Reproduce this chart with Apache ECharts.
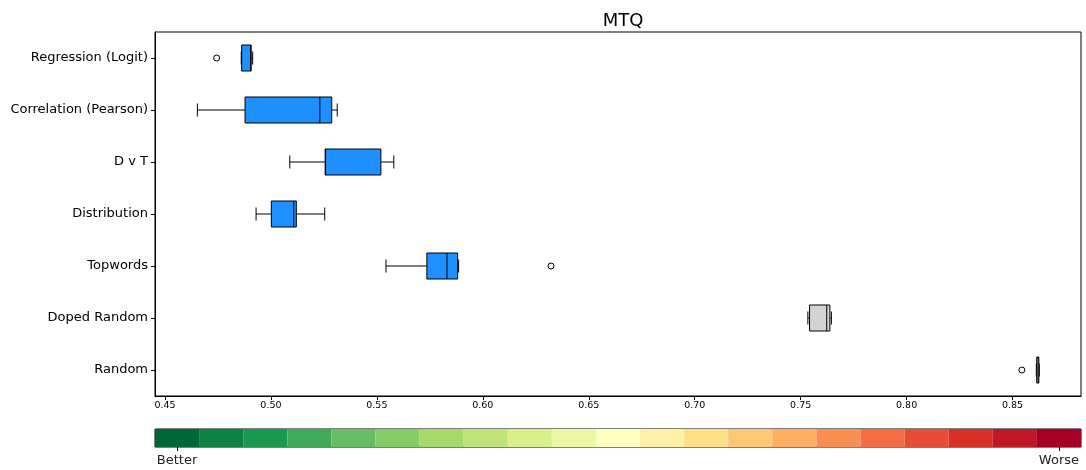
<!DOCTYPE html>
<html>
<head>
<meta charset="utf-8">
<script src="https://cdn.jsdelivr.net/npm/echarts@6/dist/echarts.min.js"></script>
<style>
html,body{margin:0;padding:0;background:#fff;}
#chart{width:1086px;height:470px;}
</style>
</head>
<body>
<div id="chart"></div>
<script>
// ---- data ----
var categories = ['Regression (Logit)', 'Correlation (Pearson)', 'D v T', 'Distribution', 'Topwords', 'Doped Random', 'Random'];
var whiskerLow  = [0.4860, 0.4653, 0.5089, 0.4930, 0.5543, 0.7534, 0.8612];
var q1          = [0.4862, 0.4878, 0.5256, 0.5002, 0.5736, 0.7542, 0.8614];
var median      = [0.4904, 0.5231, 0.5258, 0.5108, 0.5831, 0.7623, 0.8620];
var q3          = [0.4907, 0.5287, 0.5519, 0.5120, 0.5881, 0.7638, 0.8624];
var whiskerHigh = [0.4914, 0.5313, 0.5580, 0.5254, 0.5886, 0.7645, 0.8626];
var outlierCats   = ['Regression (Logit)', 'Topwords', 'Random'];
var outlierValues = [0.4744, 0.6322, 0.8544];
var boxColors = ['#1e90ff', '#1e90ff', '#1e90ff', '#1e90ff', '#1e90ff', '#d3d3d3', '#d3d3d3'];
var xTicks = [0.45, 0.50, 0.55, 0.60, 0.65, 0.70, 0.75, 0.80, 0.85];
var colorbarColors = ['#006837', '#0d8043', '#1a9850', '#40aa59', '#66bd63', '#86cb66', '#a6d96a', '#c0e47a',
  '#d9ef8b', '#ecf7a5', '#ffffbf', '#fef0a5', '#fee08b', '#fdc776', '#fdae61', '#f88e52', '#f46d43', '#e54e35',
  '#d73027', '#be1826', '#a50026'];
var colorbarLabels = ['Better', 'Worse'];
var title = 'MTQ';

// ---- build ----
var boxData = categories.map(function (c, i) {
  return [i, whiskerLow[i], q1[i], median[i], q3[i], whiskerHigh[i]];
});
var outlierData = outlierCats.map(function (c, i) { return [outlierValues[i], c]; });
var FONT = 'DejaVu Sans';

function renderBox(params, api) {
  var ci = api.value(0);
  var band = api.size([0, 1])[1];
  var yc = api.coord([0, ci])[1];
  var hb = band * 0.25, hc = band * 0.125;
  var xlo = api.coord([api.value(1), ci])[0];
  var xq1 = api.coord([api.value(2), ci])[0];
  var xmd = api.coord([api.value(3), ci])[0];
  var xq3 = api.coord([api.value(4), ci])[0];
  var xhi = api.coord([api.value(5), ci])[0];
  var ls = {stroke: '#000', lineWidth: 1};
  return {
    type: 'group',
    children: [
      {type: 'line', shape: {x1: xlo, y1: yc, x2: xq1, y2: yc}, style: ls},
      {type: 'line', shape: {x1: xq3, y1: yc, x2: xhi, y2: yc}, style: ls},
      {type: 'line', shape: {x1: xlo, y1: yc - hc, x2: xlo, y2: yc + hc}, style: ls},
      {type: 'line', shape: {x1: xhi, y1: yc - hc, x2: xhi, y2: yc + hc}, style: ls},
      {type: 'rect', shape: {x: xq1, y: yc - hb, width: xq3 - xq1, height: 2 * hb},
        style: {fill: boxColors[ci], stroke: '#000', lineWidth: 1}},
      {type: 'line', shape: {x1: xmd, y1: yc - hb, x2: xmd, y2: yc + hb}, style: ls}
    ]
  };
}

var chart = echarts.init(document.getElementById('chart'), null, {renderer: 'canvas'});
chart.setOption({
  animation: false,
  backgroundColor: '#fff',
  textStyle: {fontFamily: FONT},
  title: {
    text: title, left: 618, top: 7, textAlign: 'center',
    textStyle: {fontFamily: FONT, fontSize: 18, fontWeight: 'normal', color: '#000'}
  },
  grid: [
    {left: 155, top: 32, width: 926, height: 364, show: true, borderColor: '#000', borderWidth: 1, backgroundColor: 'transparent'},
    {left: 155, top: 429, width: 926, height: 18, show: true, borderColor: '#000', borderWidth: 1, backgroundColor: 'transparent'}
  ],
  xAxis: [
    {
      type: 'value', gridIndex: 0, min: 0.4453, max: 0.8823,
      splitLine: {show: false},
      axisLine: {show: true, lineStyle: {color: '#000', width: 1}},
      axisTick: {show: true, customValues: xTicks, length: 4, lineStyle: {color: '#000'}},
      axisLabel: {customValues: xTicks, fontSize: 9.5, color: '#000', margin: 5, fontFamily: FONT,
        formatter: function (v) { return v.toFixed(2); }}
    },
    {
      type: 'category', gridIndex: 1, data: colorbarColors.map(function (c, i) { return i; }),
      boundaryGap: true,
      axisLine: {show: false},
      axisTick: {show: true, alignWithLabel: true, length: 4, lineStyle: {color: '#000'},
        interval: function (i) { return i === 0 || i === colorbarColors.length - 1; }},
      axisLabel: {interval: 0, fontSize: 13, color: '#222', margin: 7, fontFamily: FONT,
        formatter: function (v, i) {
          if (i === 0) return colorbarLabels[0];
          if (i === colorbarColors.length - 1) return colorbarLabels[1];
          return '';
        }}
    }
  ],
  yAxis: [
    {
      type: 'category', gridIndex: 0, data: categories, inverse: true,
      axisLine: {show: true, lineStyle: {color: '#000', width: 1}},
      axisTick: {show: true, alignWithLabel: true, length: 4, lineStyle: {color: '#000'}},
      axisLabel: {fontSize: 13, color: '#000', margin: 7, fontFamily: FONT},
      splitLine: {show: false}
    },
    {
      type: 'value', gridIndex: 1, min: 0, max: 1, show: false
    }
  ],
  series: [
    {
      type: 'custom', xAxisIndex: 0, yAxisIndex: 0,
      renderItem: renderBox,
      encode: {x: [1, 2, 3, 4, 5], y: 0},
      data: boxData, z: 2
    },
    {
      type: 'scatter', xAxisIndex: 0, yAxisIndex: 0,
      symbol: 'circle', symbolSize: 6,
      itemStyle: {color: '#fff', borderColor: '#000', borderWidth: 1, opacity: 1},
      data: outlierData, z: 3
    },
    {
      type: 'bar', xAxisIndex: 1, yAxisIndex: 1,
      barWidth: '100%', barCategoryGap: 0,
      data: colorbarColors.map(function (c) { return {value: 1, itemStyle: {color: c}}; })
    }
  ]
});
</script>
</body>
</html>
